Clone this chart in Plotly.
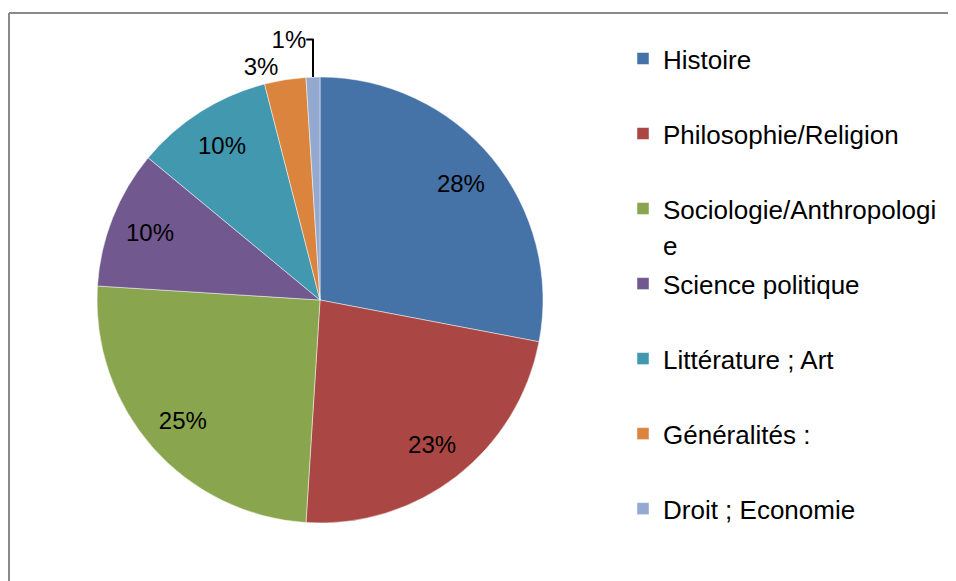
import plotly.graph_objects as go

categories = ["Histoire", "Philosophie/Religion", "Sociologie/Anthropologie",
              "Science politique", "Littérature ; Art", "Généralités :", "Droit ; Economie"]
values = [28, 23, 25, 10, 10, 3, 1]
colors = ["#4572A7", "#AA4643", "#89A54E", "#71588F", "#4198AF", "#DB843D", "#93A9CF"]
label_positions = ["inside", "inside", "inside", "inside", "inside", "outside", "outside"]

W, H = 956, 581
OFF = 8  # page body margin of the exported html
FONT = "Arial, Liberation Sans, sans-serif"

def legend_text(name):
    if name == "Sociologie/Anthropologie":
        shown = "Sociologie/Anthropologi<br>e"
    else:
        shown = name + "<br> "
    parts = shown.split("<br>")
    return "<br>".join(f"<span style='font-size:26px'>{p}</span>" for p in parts)

legend_labels = [legend_text(c) for c in categories]

cx, cy, R = 320 - OFF, 300 - OFF, 223
dom_x = [(cx - R) / W, (cx + R) / W]
dom_y = [1 - (cy + R) / H, 1 - (cy - R) / H]

fig = go.Figure()
fig.add_trace(go.Pie(
    labels=legend_labels, values=values, sort=False, direction="clockwise", rotation=0,
    marker=dict(colors=colors, line=dict(color="rgba(255,255,255,0.6)", width=0.8)),
    textinfo="none", domain=dict(x=dom_x, y=dom_y), hoverinfo="label+percent",
))
fig.add_trace(go.Pie(
    labels=legend_labels, values=values, sort=False, direction="clockwise", rotation=0,
    hole=0.64, showlegend=False,
    marker=dict(colors=["rgba(0,0,0,0)"] * len(values), line=dict(width=0)),
    texttemplate="%{value}%", textposition=label_positions,
    insidetextorientation="horizontal",
    textfont=dict(family=FONT, size=24, color="black"),
    insidetextfont=dict(family=FONT, size=24, color="black"),
    outsidetextfont=dict(family=FONT, size=24, color="black"),
    domain=dict(x=dom_x, y=dom_y), hoverinfo="skip",
))

fig.update_layout(
    width=W, height=H,
    margin=dict(l=0, r=0, t=0, b=0),
    paper_bgcolor="white", plot_bgcolor="white",
    font=dict(family=FONT, color="black"),
    legend=dict(
        x=(623 - OFF) / W, xanchor="left", y=1 - (34 - OFF) / H, yanchor="top",
        font=dict(family=FONT, size=27.7, color="black"),
        valign="top", itemwidth=30, bgcolor="rgba(0,0,0,0)",
    ),
    shapes=[
        dict(type="line", xref="paper", yref="paper", x0=(9 - OFF) / W, x1=1,
             y0=1 - (13 - OFF) / H, y1=1 - (13 - OFF) / H,
             line=dict(color="#8a8a8a", width=2)),
        dict(type="line", xref="paper", yref="paper", x0=(9 - OFF) / W, x1=(9 - OFF) / W,
             y0=0, y1=1 - (13 - OFF) / H,
             line=dict(color="#8a8a8a", width=2)),
    ],
)

fig.write_html("out.html")
